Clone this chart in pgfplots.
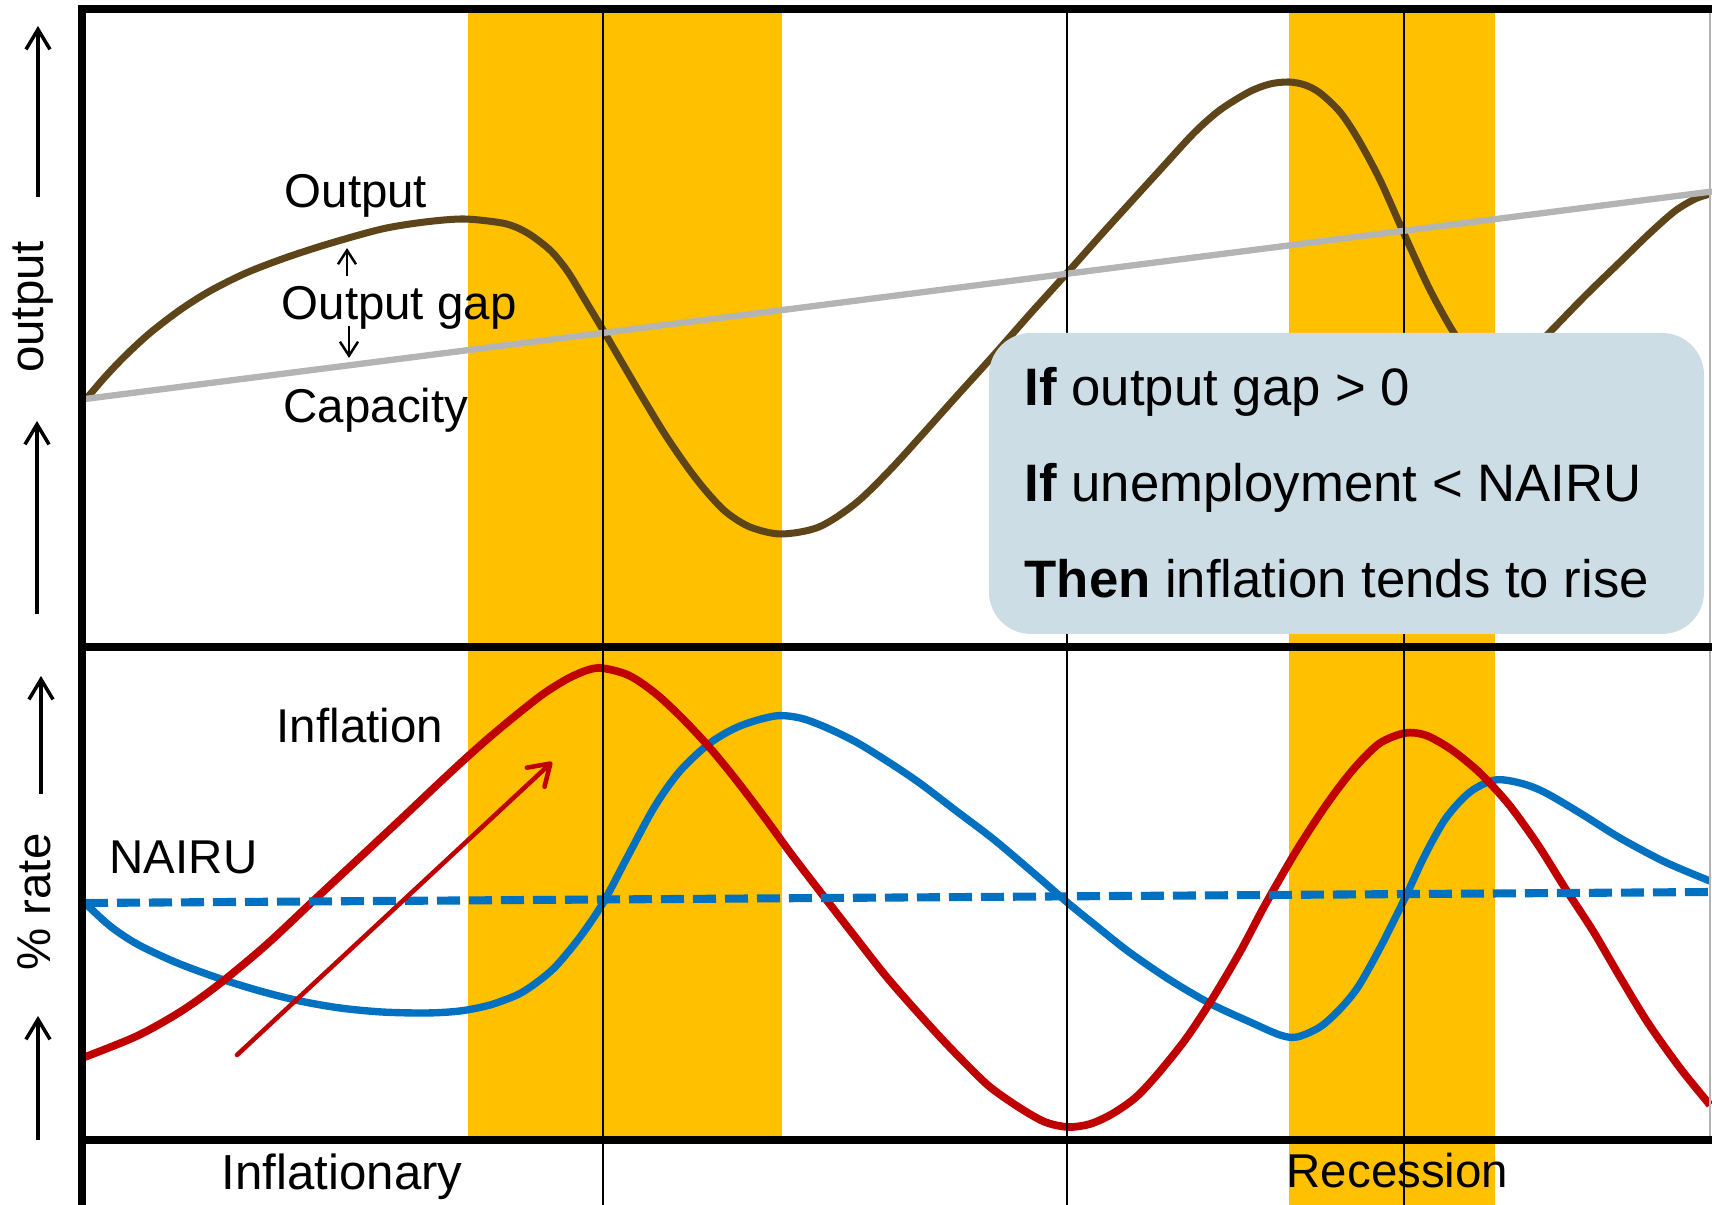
\documentclass[border=0pt]{standalone}
\usepackage{pgfplots}
\pgfplotsset{compat=1.18}
\usepackage{fontspec}
\setmainfont{Liberation Sans}
\usetikzlibrary{arrows.meta}
\definecolor{bandc}{HTML}{FFC000}
\definecolor{brownc}{HTML}{5E4519}
\definecolor{grayc}{HTML}{B4B4B4}
\definecolor{redc}{HTML}{C00000}
\definecolor{bluec}{HTML}{0070C0}
\definecolor{boxc}{HTML}{CDDDE5}
\newcommand{\lab}{\fontsize{13.5}{16}\selectfont}
\newcommand{\boxf}{\fontsize{15}{18}\selectfont}
\begin{document}
\begin{tikzpicture}
\begin{axis}[name=ax, width=17.12cm, height=12.05cm, scale only axis,
  xmin=0, xmax=1712, ymin=0, ymax=1205, y dir=reverse,
  axis lines=none, clip=false, no marks]
% shaded bands
\addplot[fill=bandc, draw=none] coordinates {(468,9) (782,9) (782,1140) (468,1140)};
\addplot[fill=bandc, draw=none] coordinates {(1289,9) (1495,9) (1495,1205) (1289,1205)};
% ---- top panel: output and capacity
\addplot[brownc, line width=2pt, smooth, tension=0.5] coordinates {
(87,398) (105,377) (125,356) (150,333) (180,310) (210,291) (246,273) (285,258)
(328,244) (382,229) (425,222) (464,219) (502,223) (520,229) (535,238) (552,252)
(568,272) (585,300) (603,330) (624,366) (644,400) (666,436) (688,468) (706,491)
(726,512) (750,527) (781,534) (819,527) (856,503) (890,470) (921,436) (955,398)
(993,356) (1030,314) (1068,272) (1100,236) (1129,204) (1160,170) (1194,133)
(1220,110) (1249,92) (1270,84) (1289,82) (1305,85) (1320,93) (1340,112) (1358,139)
(1380,180) (1405,236) (1430,290) (1454,333) (1475,360) (1497,370) (1520,362)
(1549,333) (1585,296) (1620,262) (1650,233) (1675,211) (1695,199) (1710,194)};
\addplot[grayc, line width=1.8pt] coordinates {(85,399) (1712,191.5)};
% ---- bottom panel: unemployment, inflation, NAIRU
\addplot[bluec, line width=2.1pt, smooth, tension=0.5] coordinates {
(85,903) (110,926) (137,944) (175,962) (218,978) (260,991) (300,1001) (340,1008)
(382,1012) (426,1013) (460,1011) (490,1005) (519,994) (540,980) (557,965) (580,937)
(603,903) (630,852) (655,806) (680,771) (710,743) (740,726) (775,716) (800,718)
(825,727) (856,742) (890,763) (921,784) (955,810) (992,838) (1030,870) (1068,903)
(1100,929) (1129,952) (1170,980) (1211,1004) (1250,1022) (1280,1035) (1297,1037)
(1320,1027) (1340,1009) (1358,987) (1380,948) (1405,898) (1425,855) (1446,818)
(1470,792) (1495,780) (1520,783) (1544,792) (1580,813) (1620,838) (1665,862) (1710,881)};
\addplot[redc, line width=2.2pt, smooth, tension=0.5] coordinates {
(85,1057) (137,1036) (180,1012) (218,985) (265,946) (311,903) (355,862) (400,820)
(437,785) (465,759) (491,736) (520,712) (546,692) (573,676) (598,668) (628,675)
(655,693) (682,718) (710,748) (737,781) (765,818) (792,855) (825,898) (856,938)
(885,975) (911,1005) (940,1037) (965,1063) (990,1087) (1020,1108) (1045,1122)
(1068,1127) (1090,1124) (1112,1114) (1135,1098) (1156,1076) (1185,1040) (1211,1001)
(1240,952) (1265,905) (1295,853) (1320,814) (1340,786) (1358,764) (1380,743)
(1405,733) (1425,735) (1446,746) (1465,760) (1484,777) (1510,806) (1538,845)
(1565,888) (1593,931) (1620,977) (1648,1023) (1680,1068) (1710,1105)};
\addplot[bluec, line width=2.3pt, dash pattern=on 2.3mm off 0.9mm] coordinates {(85,903) (1712,892)};
% red trend arrow
\addplot[redc, line width=1.3pt, line cap=round, -{Straight Barb[length=2mm,width=2.6mm,round]}] coordinates {(237,1055) (552,762)};
% thin vertical lines
\addplot[black, line width=0.75pt] coordinates {(603,9) (603,1205)};
\addplot[black, line width=0.75pt] coordinates {(1067,9) (1067,1205)};
\addplot[black, line width=0.75pt] coordinates {(1404,9) (1404,1205)};
% text box
\fill[boxc, rounded corners=4.2mm] (axis cs:989,333) rectangle (axis cs:1704,634);
\node[anchor=base west, inner sep=0, font=\boxf] at (axis cs:1024,406) {\textbf{If} output gap > 0};
\node[anchor=base west, inner sep=0, font=\boxf] at (axis cs:1024,502) {\textbf{If} unemployment < NAIRU};
\node[anchor=base west, inner sep=0, font=\boxf] at (axis cs:1024,598) {\textbf{Then} inflation tends to rise};
% labels top panel
\node[anchor=base west, inner sep=0, font=\lab] at (axis cs:284,208) {Output};
\node[anchor=base west, inner sep=0, font=\lab] at (axis cs:281,320) {Output gap};
\node[anchor=base west, inner sep=0, font=\lab] at (axis cs:283,423) {Capacity};
\addplot[black, line width=0.7pt, -{Straight Barb[length=1.4mm,width=1.8mm]}] coordinates {(347,276) (347,248)};
\addplot[black, line width=0.7pt, -{Straight Barb[length=1.4mm,width=1.8mm]}] coordinates {(349,326) (349,358)};
% labels bottom panel
\node[anchor=base west, inner sep=0, font=\lab] at (axis cs:276,743) {Inflation};
\node[anchor=base west, inner sep=0, font=\lab] at (axis cs:109,874) {NAIRU};
\node[anchor=base west, inner sep=0, font=\fontsize{14}{16}\selectfont] at (axis cs:221,1189) {Inflationary};
\node[anchor=base west, inner sep=0, font=\lab] at (axis cs:1286,1187) {Recession};
% y labels and arrows
\node[rotate=90, inner sep=0, font=\lab] at (axis cs:33,307) {output};
\node[rotate=90, inner sep=0, font=\lab] at (axis cs:34,902) {\% rate};
\addplot[black, line width=1pt, -{Straight Barb[length=2mm,width=2.4mm]}] coordinates {(38,197) (38,26)};
\addplot[black, line width=1pt, -{Straight Barb[length=2mm,width=2.4mm]}] coordinates {(37,614) (37,421)};
\addplot[black, line width=1pt, -{Straight Barb[length=2mm,width=2.4mm]}] coordinates {(41,794) (41,676)};
\addplot[black, line width=1pt, -{Straight Barb[length=2mm,width=2.4mm]}] coordinates {(38,1140) (38,1016)};
% frame
\addplot[grayc, line width=0.5pt] coordinates {(1710,9) (1710,1140)};
\addplot[black, line width=2.5pt] coordinates {(1712,9) (82,9) (82,1205)};
\addplot[black, line width=2.5pt] coordinates {(82,647) (1712,647)};
\addplot[black, line width=2.5pt] coordinates {(82,1140) (1712,1140)};
\end{axis}
\pgfresetboundingbox
\path (ax.south west) rectangle (ax.north east);
\end{tikzpicture}
\end{document}
